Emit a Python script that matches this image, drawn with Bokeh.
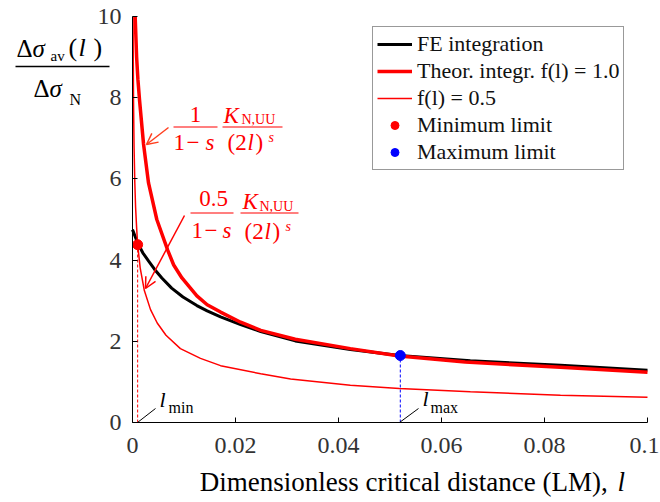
from bokeh.plotting import figure
from bokeh.models import Label, Arrow, OpenHead, Legend, LegendItem, FixedTicker, Range1d
from bokeh.embed import file_html
from bokeh.resources import INLINE

# ---------------- data ----------------
x_ticks = [0, 0.02, 0.04, 0.06, 0.08, 0.1]
x_tick_labels = ["0", "0.02", "0.04", "0.06", "0.08", "0.1"]
y_ticks = [0, 2, 4, 6, 8, 10]

fe_l = [0.0, 0.001, 0.002, 0.0031, 0.0043, 0.0057, 0.0076, 0.0098, 0.0125, 0.0145, 0.0171, 0.021,
        0.0249, 0.0316, 0.0423, 0.0518, 0.0656, 0.0831, 0.1]
fe_y = [4.75, 4.42, 4.18, 3.98, 3.77, 3.56, 3.31, 3.09, 2.88, 2.75, 2.60, 2.41,
        2.24, 2.01, 1.80, 1.65, 1.52, 1.41, 1.29]

th10_l = [0.00052, 0.0008, 0.00105, 0.00136, 0.00214, 0.00311, 0.00472, 0.00685, 0.008, 0.0096, 0.0125,
          0.0145, 0.0171, 0.021, 0.0249, 0.0316, 0.0423, 0.0518, 0.0646, 0.0831, 0.1]
th10_y = [10.0, 9.0, 8.45, 7.95, 6.86, 5.90, 5.00, 4.24, 3.88, 3.56, 3.12,
          2.90, 2.72, 2.47, 2.27, 2.05, 1.82, 1.64, 1.49, 1.36, 1.24]

th05_l = [0.0001, 0.0002, 0.0003, 0.00045, 0.0006, 0.0008, 0.001, 0.0015, 0.0023, 0.0035, 0.0048, 0.0065,
          0.0093, 0.0132, 0.0171, 0.0249, 0.0307, 0.0423, 0.0518, 0.0656, 0.0831, 0.1]
th05_y = [10.0, 7.9, 6.8, 5.9, 5.3, 4.8, 4.38, 3.80, 3.25, 2.78, 2.45, 2.15,
          1.82, 1.58, 1.40, 1.20, 1.07, 0.92, 0.84, 0.76, 0.67, 0.62]

l_min, y_min = 0.001, 4.38
l_max, y_max = 0.052, 1.65

# ---------------- layout helpers (pixel -> data) ----------------
W, H = 660, 502
X0, X1, Y0, Y1 = 0.0, 0.1, 0.0, 10.0
FL, FR, FT, FB = 132, 647, 16, 422   # pixel position of the axes box


def dx(px):
    return X0 + (px - FL) * (X1 - X0) / (FR - FL)


def dy(py):
    return Y0 + (FB - py) * (Y1 - Y0) / (FB - FT)


SERIF = "Liberation Serif"
RED = "#ff0000"
BLUE = "#0000ff"

p = figure(width=W, height=H, x_range=Range1d(dx(0), dx(W)), y_range=Range1d(dy(H), dy(0)),
           output_backend="svg", toolbar_location=None,
           min_border_left=0, min_border_right=0, min_border_top=0, min_border_bottom=0)
p.title.visible = False
p.outline_line_color = None
p.grid.visible = False
p.background_fill_color = "white"
p.border_fill_color = "white"

for ax in (p.xaxis[0], p.yaxis[0]):
    ax.fixed_location = 0
    ax.major_tick_in = 5
    ax.major_tick_out = 0
    ax.minor_tick_line_color = None
    ax.axis_line_color = "black"
    ax.axis_line_width = 1
    ax.major_tick_line_color = "black"
    ax.major_label_text_font = SERIF
    ax.major_label_text_font_size = "24px"
    ax.major_label_text_color = "#333333"
p.xaxis.ticker = FixedTicker(ticks=x_ticks)
# x tick labels are drawn below as labels (exact vertical placement)
p.xaxis.major_label_overrides = {t: "" for t in x_ticks}
p.xaxis.bounds = (X0, X1)
p.yaxis.ticker = FixedTicker(ticks=y_ticks)
p.yaxis.bounds = (Y0, Y1)
p.yaxis.major_label_standoff = 11

# dashed guide lines
p.segment(x0=[l_min], y0=[0], x1=[l_min], y1=[y_min], line_color=RED, line_width=1, line_dash="3 2")
p.segment(x0=[l_max], y0=[0], x1=[l_max], y1=[y_max], line_color=BLUE, line_width=1, line_dash="3 2")

r_fe = p.line(fe_l, fe_y, line_color="black", line_width=3)
r_th05 = p.line(th05_l, th05_y, line_color=RED, line_width=1.5)
r_th10 = p.line(th10_l, th10_y, line_color=RED, line_width=3.5)
r_min = p.scatter([l_min], [y_min], size=10, fill_color=RED, line_color=RED)
r_max = p.scatter([l_max], [y_max], size=10, fill_color=BLUE, line_color=BLUE)

legend = Legend(items=[
    LegendItem(label="FE integration", renderers=[r_fe]),
    LegendItem(label="Theor. integr. f(l) = 1.0", renderers=[r_th10]),
    LegendItem(label="f(l) = 0.5", renderers=[r_th05]),
    LegendItem(label="Minimum limit", renderers=[r_min]),
    LegendItem(label="Maximum limit", renderers=[r_max]),
], location=(372, H - 170), margin=0, padding=4, spacing=1,
    label_text_font=SERIF, label_text_font_size="22px", label_text_color="#111111",
    glyph_width=35, glyph_height=20, label_height=20, label_standoff=5,
    border_line_color="#333333", border_line_width=1, background_fill_alpha=1.0)
p.add_layout(legend)

BASE_FIX = 0.37   # renderer puts the alphabetic baseline this many em lower


def txt(s, px, py, size, color="black", italic=False, align="left"):
    p.add_layout(Label(x=dx(px), y=dy(py - BASE_FIX * size), text=s, text_font=SERIF,
                       text_font_size=f"{size}px",
                       text_font_style="italic" if italic else "normal", text_color=color,
                       text_align=align, text_baseline="alphabetic"))


def hline(x0, x1, py, color="black", width=1.2):
    p.add_layout(Arrow(end=None, x_start=dx(x0), y_start=dy(py), x_end=dx(x1), y_end=dy(py),
                       line_color=color, line_width=width))


# x tick labels (the last one kept inside the canvas)
for t, s in zip(x_ticks, x_tick_labels):
    is_last = t == x_ticks[-1]
    p.add_layout(Label(x=dx(W - 1) if is_last else t, y=dy(454 - BASE_FIX * 24), text=s,
                       text_font=SERIF, text_font_size="24px", text_color="#333333",
                       text_align="right" if is_last else "center", text_baseline="alphabetic"))

# y-axis label as a fraction
txt("Δ", 16, 57, 25)
txt("σ", 32, 57, 25, italic=True)
txt("av", 50, 61, 15)
txt("(", 68, 57, 26)
txt("l", 78, 57, 26, italic=True)
txt(")", 93, 57, 26)
hline(15, 109, 66, width=1.5)
txt("Δ", 33, 97, 25)
txt("σ", 49, 97, 25, italic=True)
txt("N", 69, 105, 16)

# x-axis label
txt("Dimensionless critical distance (LM), ", 614, 491, 27, align="right")
txt("l", 617, 491, 27, italic=True)

# formula 1 (f = 1.0)
txt("1", 195, 123, 23, RED, align="center")
hline(173, 217, 126.5, RED, 1.2)
txt("1", 173, 151, 23, RED)
txt("−", 186, 151, 23, RED)
txt("s", 205, 151, 23, RED, italic=True)
txt("K", 223, 124, 23, RED, italic=True)
txt("N,UU", 241, 124, 14, RED)
hline(222, 282, 126.5, RED, 1.2)
txt("(2", 227, 151, 23, RED)
txt("l", 247, 151, 23, RED, italic=True)
txt(")", 255, 151, 23, RED)
txt("s", 268, 142, 14, RED, italic=True)

# formula 2 (f = 0.5)
txt("0.5", 213, 207, 23, RED, align="center")
hline(190, 233, 212.5, RED, 1.2)
txt("1", 191, 239, 23, RED)
txt("−", 204, 239, 23, RED)
txt("s", 222, 239, 23, RED, italic=True)
txt("K", 242, 210, 23, RED, italic=True)
txt("N,UU", 259, 211, 14, RED)
hline(240, 298, 212.5, RED, 1.2)
txt("(2", 244, 240, 23, RED)
txt("l", 264, 240, 23, RED, italic=True)
txt(")", 272, 240, 23, RED)
txt("s", 285, 231, 14, RED, italic=True)

# arrows to curves
p.add_layout(Arrow(end=OpenHead(size=11, line_color="#ff4020", line_width=1.5),
                   x_start=dx(168), y_start=dy(127), x_end=dx(146), y_end=dy(144),
                   line_color="#ff4020", line_width=1.5))
p.add_layout(Arrow(end=OpenHead(size=11, line_color=RED, line_width=1.5),
                   x_start=dx(184), y_start=dy(215), x_end=dx(145), y_end=dy(288),
                   line_color=RED, line_width=1.5))

# l_min / l_max labels with leader lines
p.segment(x0=[dx(137)], y0=[0], x1=[dx(155)], y1=[dy(408)], line_color="black", line_width=1)
txt("l", 159, 407, 22, italic=True)
txt("min", 168, 413, 16)
p.segment(x0=[dx(399)], y0=[0], x1=[dx(418)], y1=[dy(408)], line_color="black", line_width=1)
txt("l", 422, 406, 22, italic=True)
txt("max", 430, 413, 16)

open("out.html", "w").write(file_html(p, INLINE))
